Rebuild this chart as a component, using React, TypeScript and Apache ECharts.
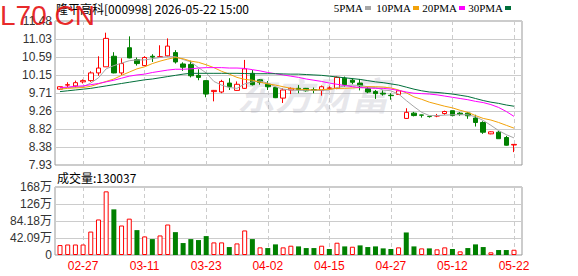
import React, { useEffect, useRef } from 'react';
import * as echarts from 'echarts';

const dates = [
  '02-24', '02-25', '02-26', '02-27', '03-02', '03-03', '03-04', '03-05', '03-06', '03-09',
  '03-10', '03-11', '03-12', '03-13', '03-16', '03-17', '03-18', '03-19', '03-20', '03-23',
  '03-24', '03-25', '03-26', '03-27', '03-30', '03-31', '04-01', '04-02', '04-03', '04-07',
  '04-08', '04-09', '04-10', '04-13', '04-14', '04-15', '04-16', '04-17', '04-20', '04-21',
  '04-22', '04-23', '04-24', '04-27', '04-28', '04-29', '04-30', '05-06', '05-07', '05-08',
  '05-11', '05-12', '05-13', '05-14', '05-15', '05-18', '05-19', '05-20', '05-21', '05-22',
];
const labeledDates = ['02-27', '03-11', '03-23', '04-02', '04-15', '04-27', '05-12', '05-22'];

const open = [
  9.80, 9.90, 9.88, 9.98, 10.01, 10.20, 10.35, 10.61, 10.20, 10.82,
  10.53, 10.38, 10.61, 10.59, 10.62, 10.70, 10.42, 10.41, 10.14, 10.01,
  9.74, 9.73, 9.95, 9.77, 9.82, 10.19, 10.03, 9.92, 9.84, 9.58,
  9.78, 9.82, 9.82, 9.79, 9.77, 9.82, 9.82, 10.07, 10.02, 9.95,
  9.81, 9.74, 9.70, 9.65, 9.67, 9.08, 9.21, 9.165, 9.13, 9.14,
  9.20, 9.27, 9.21, 9.21, 9.09, 8.98, 8.70, 8.74, 8.61, 8.425,
];
const close = [
  9.86, 9.91, 9.96, 10.01, 10.20, 10.32, 11.05, 10.20, 10.43, 10.57,
  10.43, 10.58, 10.59, 10.60, 10.86, 10.47, 10.34, 10.13, 10.09, 9.68,
  9.77, 9.99, 9.86, 9.92, 10.30, 9.91, 9.97, 9.86, 9.59, 9.78,
  9.82, 9.79, 9.76, 9.77, 9.86, 9.83, 10.09, 9.91, 9.97, 9.88,
  9.73, 9.69, 9.68, 9.64, 9.76, 9.23, 9.15, 9.16, 9.125, 9.145,
  9.25, 9.15, 9.185, 9.145, 8.98, 8.74, 8.75, 8.58, 8.42, 8.44,
];
const low = [
  9.79, 9.85, 9.84, 9.94, 9.98, 10.13, 10.35, 10.19, 10.15, 10.56,
  10.38, 10.37, 10.47, 10.58, 10.60, 10.43, 10.25, 10.09, 10.02, 9.60,
  9.50, 9.70, 9.78, 9.76, 9.81, 9.89, 9.91, 9.78, 9.58, 9.46,
  9.68, 9.70, 9.74, 9.70, 9.64, 9.78, 9.80, 9.86, 9.92, 9.77,
  9.70, 9.56, 9.64, 9.54, 9.66, 9.07, 9.13, 9.10, 9.10, 9.11,
  9.17, 9.13, 9.145, 9.07, 8.88, 8.70, 8.69, 8.58, 8.41, 8.25,
];
const high = [
  9.87, 9.97, 10.01, 10.04, 10.24, 10.61, 11.19, 10.71, 10.56, 11.10,
  10.58, 10.61, 10.66, 10.88, 11.05, 10.76, 10.46, 10.50, 10.29, 10.02,
  9.78, 10.03, 10.07, 9.99, 10.52, 10.27, 10.05, 10.00, 9.86, 9.82,
  9.84, 9.90, 9.83, 9.84, 9.89, 9.87, 10.11, 10.11, 10.07, 10.05,
  9.85, 9.78, 9.77, 9.70, 9.78, 9.33, 9.24, 9.17, 9.14, 9.19,
  9.27, 9.27, 9.235, 9.235, 9.17, 9.01, 8.76, 8.77, 8.65, 8.445,
];

const volume = [
  246000, 260000, 260000, 260000, 580000, 880000, 1576000, 1130000, 730000, 900000,
  616000, 460000, 394000, 484000, 755000, 566000, 296000, 394000, 370000, 468000,
  312000, 312000, 197000, 287000, 608000, 394000, 189000, 172000, 263000, 189000,
  230000, 213000, 172000, 172000, 230000, 148000, 304000, 213000, 205000, 238000,
  197000, 213000, 164000, 148000, 189000, 558000, 213000, 164000, 164000, 140000,
  189000, 148000, 90000, 172000, 263000, 197000, 66000, 123000, 123000, 130037,
];
// 1 = red hollow bar, 0 = green filled bar
const volumeUp = [
  1, 1, 1, 1, 1, 1, 1, 0, 1, 1,
  0, 1, 0, 1, 1, 0, 0, 0, 0, 0,
  1, 1, 0, 1, 1, 0, 1, 0, 0, 1,
  1, 0, 0, 0, 1, 0, 1, 0, 1, 0,
  0, 0, 0, 0, 1, 0, 0, 1, 0, 1,
  1, 0, 1, 0, 0, 0, 1, 0, 0, 1,
];

const ma5 = [
  9.82, 9.84, 9.85, 9.86, 9.95, 10.08, 10.30, 10.38, 10.44, 10.50,
  10.52, 10.52, 10.55, 10.58, 10.60, 10.60, 10.53, 10.47, 10.33, 10.20,
  9.99, 9.90, 9.84, 9.82, 9.93, 9.98, 10.00, 9.95, 9.86, 9.80,
  9.78, 9.77, 9.77, 9.77, 9.77, 9.78, 9.84, 9.88, 9.90, 9.89,
  9.86, 9.84, 9.78, 9.76, 9.68, 9.52, 9.37, 9.23, 9.15, 9.15,
  9.16, 9.17, 9.17, 9.17, 9.12, 9.03, 8.91, 8.78, 8.68, 8.60,
];
const ma10 = [
  9.80, 9.82, 9.83, 9.84, 9.87, 9.93, 9.99, 10.05, 10.14, 10.22,
  10.30, 10.35, 10.43, 10.49, 10.54, 10.58, 10.55, 10.49, 10.46, 10.40,
  10.33, 10.24, 10.17, 10.09, 10.04, 10.02, 9.97, 9.93, 9.90, 9.86,
  9.82, 9.80, 9.79, 9.78, 9.79, 9.80, 9.82, 9.82, 9.83, 9.84,
  9.86, 9.86, 9.85, 9.83, 9.78, 9.71, 9.61, 9.55, 9.48, 9.43,
  9.38, 9.34, 9.28, 9.23, 9.15, 9.08, 9.04, 8.98, 8.91, 8.84,
];
const ma20 = [
  9.84, 9.85, 9.87, 9.88, 9.91, 9.94, 9.98, 10.02, 10.07, 10.12,
  10.15, 10.17, 10.21, 10.24, 10.27, 10.29, 10.29, 10.30, 10.32, 10.33,
  10.33, 10.33, 10.32, 10.32, 10.31, 10.28, 10.25, 10.21, 10.18, 10.15,
  10.12, 10.09, 10.05, 10.02, 9.99, 9.95, 9.92, 9.89, 9.86, 9.84,
  9.83, 9.82, 9.82, 9.80, 9.77, 9.73, 9.70, 9.69, 9.68, 9.66,
  9.63, 9.60, 9.57, 9.54, 9.50, 9.47, 9.42, 9.35, 9.25, 9.13,
];
const ma30 = [
  9.74, 9.76, 9.78, 9.80, 9.82, 9.85, 9.88, 9.91, 9.94, 9.97,
  10.00, 10.03, 10.05, 10.08, 10.11, 10.14, 10.17, 10.19, 10.19, 10.19,
  10.19, 10.19, 10.19, 10.19, 10.185, 10.18, 10.18, 10.18, 10.18, 10.175,
  10.17, 10.17, 10.16, 10.15, 10.14, 10.12, 10.10, 10.08, 10.06, 10.04,
  10.01, 9.98, 9.96, 9.93, 9.90, 9.85, 9.80, 9.76, 9.73, 9.72,
  9.70, 9.68, 9.65, 9.62, 9.57, 9.52, 9.48, 9.45, 9.41, 9.38,
];

const priceTickLabels = ['7.93', '8.38', '8.82', '9.26', '9.71', '10.15', '10.59', '11.03', '11.48'];
const volumeTickLabels = ['0', '42.09万', '84.18万', '126万', '168万'];
const priceMin = 7.933;
const priceMax = 11.478;
const volumeMax = 1683600;
const titleText = '隆平高科[000998] 2026-05-22 15:00';
const volumeTitle = '成交量';
const legendNames = ['5PMA', '10PMA', '20PMA', '30PMA'];
const legendColors = ['#a6a6a6', '#f2a20a', '#ff00ff', '#006f3a'];

export default function App() {
  const ref = useRef<HTMLDivElement>(null);

  useEffect(() => {
    if (!ref.current) return;
    const chart = echarts.init(ref.current, null, { renderer: 'svg' });

    const tickIdx = labeledDates.map((d) => dates.indexOf(d));
    const priceStep = (priceMax - priceMin) / (priceTickLabels.length - 1);
    const priceTicks = priceTickLabels.map((_, k) => priceMin + k * priceStep);
    const volStep = volumeMax / (volumeTickLabels.length - 1);

    const xAxisBase = (gridIndex: number, showLabel: boolean) => ({
      type: 'value',
      gridIndex,
      min: -0.65,
      max: 60.04,
      axisLine: { show: false },
      axisTick: { show: false, customValues: tickIdx },
      axisLabel: {
        show: showLabel,
        customValues: tickIdx,
        formatter: (v: number) => dates[Math.round(v)] ?? '',
        color: '#ff0000',
        fontSize: 12,
        fontFamily: 'Liberation Sans, Arial, sans-serif',
        margin: 5,
      },
      splitLine: { show: true, lineStyle: { color: '#cccccc', width: 1, type: [4, 3] } },
    });

    const maSeries = [ma5, ma10, ma20, ma30].map((arr, k) => ({
      type: 'line',
      name: legendNames[k],
      xAxisIndex: 0,
      yAxisIndex: 0,
      data: arr.map((v, i) => [i, v]),
      showSymbol: false,
      symbol: 'none',
      lineStyle: { color: legendColors[k], width: 1 },
      z: 4,
      silent: true,
    }));

    const graphics: any[] = [
      {
        type: 'text',
        left: 237,
        top: 74,
        z: 1,
        silent: true,
        style: {
          text: '东方财富',
          fontSize: 38,
          fontWeight: 'bold',
          fontStyle: 'italic',
          fontFamily: 'Noto Sans CJK SC, sans-serif',
          fill: 'rgba(170,170,185,0.28)',
        },
      },
      {
        type: 'text',
        left: 56,
        top: 2,
        z: 10,
        style: {
          text: titleText,
          fontSize: 12,
          fontFamily: 'Noto Sans CJK SC, sans-serif',
          fill: '#000',
        },
      },
      {
        type: 'text',
        left: 57,
        top: 171,
        z: 10,
        style: {
          text: volumeTitle + ':' + String(volume[volume.length - 1]),
          fontSize: 12,
          fontFamily: 'Noto Sans CJK SC, sans-serif',
          fill: '#000',
        },
      },
      {
        type: 'text',
        left: 0,
        top: 1,
        z: 20,
        style: {
          text: 'L70.CN',
          fontSize: 28,
          fontFamily: 'Liberation Sans, Arial, sans-serif',
          fill: 'rgba(230,20,20,0.92)',
        },
      },
    ];
    const swatchX = [365, 413, 459, 505];
    legendNames.forEach((name, k) => {
      graphics.push({
        type: 'text',
        x: swatchX[k] - 2,
        y: 8,
        z: 10,
        style: {
          text: name,
          fontSize: 11,
          fontFamily: 'Liberation Serif, serif',
          fill: '#000',
          align: 'right',
          verticalAlign: 'middle',
        },
      });
      graphics.push({
        type: 'rect',
        shape: { x: swatchX[k], y: 6, width: 6, height: 4 },
        z: 10,
        style: { fill: legendColors[k] },
      });
    });

    const option: any = {
      animation: false,
      backgroundColor: '#ffffff',
      grid: [
        { left: 55, right: 56, top: 21, height: 144, show: true, borderColor: '#999999', borderWidth: 1, backgroundColor: 'transparent' },
        { left: 55, right: 56, top: 187, height: 68, show: true, borderColor: '#999999', borderWidth: 1, backgroundColor: 'transparent' },
      ],
      xAxis: [xAxisBase(0, false), xAxisBase(1, true)],
      yAxis: [
        {
          type: 'value',
          gridIndex: 0,
          min: priceMin,
          max: priceMax,
          axisLine: { show: false },
          axisTick: { show: false, customValues: priceTicks },
          axisLabel: {
            customValues: priceTicks,
            formatter: (v: number) => priceTickLabels[Math.round((v - priceMin) / priceStep)] ?? '',
            color: '#333',
            fontSize: 12,
            fontFamily: 'Liberation Sans, Arial, sans-serif',
            margin: 3,
          },
          splitLine: { show: true, lineStyle: { color: '#cccccc', width: 1 } },
        },
        {
          type: 'value',
          gridIndex: 1,
          min: 0,
          max: volumeMax,
          interval: volStep,
          axisLine: { show: false },
          axisTick: { show: false },
          axisLabel: {
            formatter: (v: number) => volumeTickLabels[Math.round(v / volStep)] ?? '',
            color: '#333',
            fontSize: 12,
            fontFamily: 'Liberation Sans, Arial, Noto Sans CJK SC, sans-serif',
            margin: 3,
          },
          splitLine: { show: true, lineStyle: { color: '#cccccc', width: 1 } },
        },
      ],
      series: [
        {
          type: 'candlestick',
          xAxisIndex: 0,
          yAxisIndex: 0,
          barWidth: 5,
          data: dates.map((_, i) => [i, open[i], close[i], low[i], high[i]]),
          itemStyle: {
            color: '#ffffff',
            color0: '#008000',
            borderColor: '#ff0000',
            borderColor0: '#008000',
            borderColorDoji: '#ff0000',
            borderWidth: 1,
          },
          z: 3,
          silent: true,
        },
        ...maSeries,
        {
          type: 'bar',
          xAxisIndex: 1,
          yAxisIndex: 1,
          barWidth: 5,
          silent: true,
          data: volume.map((v, i) => ({
            value: [i, v],
            itemStyle: volumeUp[i]
              ? { color: '#ffffff', borderColor: '#ff0000', borderWidth: 1 }
              : { color: '#008000', borderColor: '#008000', borderWidth: 0 },
          })),
        },
      ],
      graphic: graphics,
    };

    chart.setOption(option);
    return () => chart.dispose();
  }, []);

  return (
    <div
      ref={ref}
      style={{ position: 'fixed', left: 0, top: 0, width: 578, height: 276, background: '#fff' }}
    />
  );
}
